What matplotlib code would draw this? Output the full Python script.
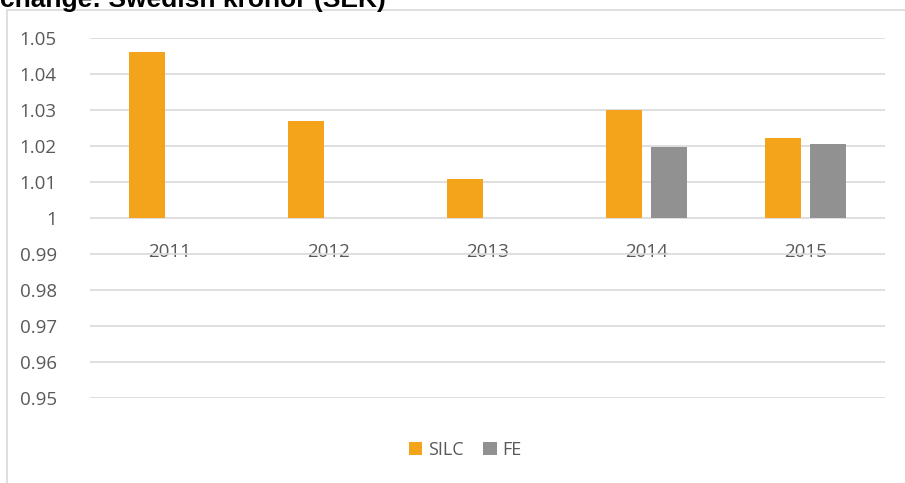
import matplotlib
matplotlib.use("Agg")
import matplotlib.pyplot as plt
from matplotlib.patches import Rectangle
import numpy as np

plt.rcParams['font.family'] = ['Open Sans', 'DejaVu Sans']

years = ['2011', '2012', '2013', '2014', '2015']
silc = [1.0461, 1.0269, 1.0108, 1.0301, 1.0222]
fe = [np.nan, np.nan, np.nan, 1.0197, 1.0206]
yticks = [0.95, 0.96, 0.97, 0.98, 0.99, 1.0, 1.01, 1.02, 1.03, 1.04, 1.05]
ytick_labels = ['0.95', '0.96', '0.97', '0.98', '0.99', '1', '1.01', '1.02', '1.03', '1.04', '1.05']

W, H = 905, 483
fig = plt.figure(figsize=(W/100, H/100), dpi=100)
ax = fig.add_axes([90/W, 1-398/H, (885-90)/W, (398-38)/H])

x = np.arange(len(years))
bw = 0.223
off = 0.1415
base = 1.0
ax.bar(x - off, np.array(silc) - base, bottom=base, width=bw, color='#F4A41A', label='SILC', zorder=3)
ax.bar(x + off, np.array(fe) - base, bottom=base, width=bw, color='#919191', label='FE', zorder=3)

ax.set_xlim(-0.5, len(years) - 0.5)
ax.set_ylim(0.95, 1.05)
ax.set_yticks(yticks)
ax.set_yticklabels(ytick_labels)
ax.yaxis.grid(True, color='#D9D9D9', linewidth=1.2, zorder=0)
ax.set_axisbelow(True)
for s in ['top', 'right', 'left']:
    ax.spines[s].set_visible(False)
ax.spines['bottom'].set_position(('data', 1.0))
ax.spines['bottom'].set_visible(False)
ax.set_xticks(x)
ax.set_xticklabels(years)
ax.tick_params(axis='x', length=0, pad=18, labelsize=13.5, labelcolor='#595959')
ax.tick_params(axis='y', length=0, pad=24, labelsize=13.5, labelcolor='#595959')

leg = ax.legend(loc='center', bbox_to_anchor=(465/W, 1-450/H), bbox_transform=fig.transFigure,
                ncol=2, frameon=False, fontsize=13, handlelength=0.75, handleheight=0.75,
                handletextpad=0.3, columnspacing=1.1)
for t in leg.get_texts():
    t.set_color('#595959')

fig.patches.append(Rectangle((7/W, -0.1), 1.2, 1.1 - 10/H, transform=fig.transFigure,
                             fill=False, edgecolor='#D9D9D9', linewidth=1.2))
fig.text(0/W, 1 - 7/H, 'change: Swedish kronor (SEK)', fontsize=19, fontweight='bold',
         family=['Liberation Sans', 'DejaVu Sans'], va='baseline', ha='left', color='black')

fig.savefig('out.png', dpi=100)
